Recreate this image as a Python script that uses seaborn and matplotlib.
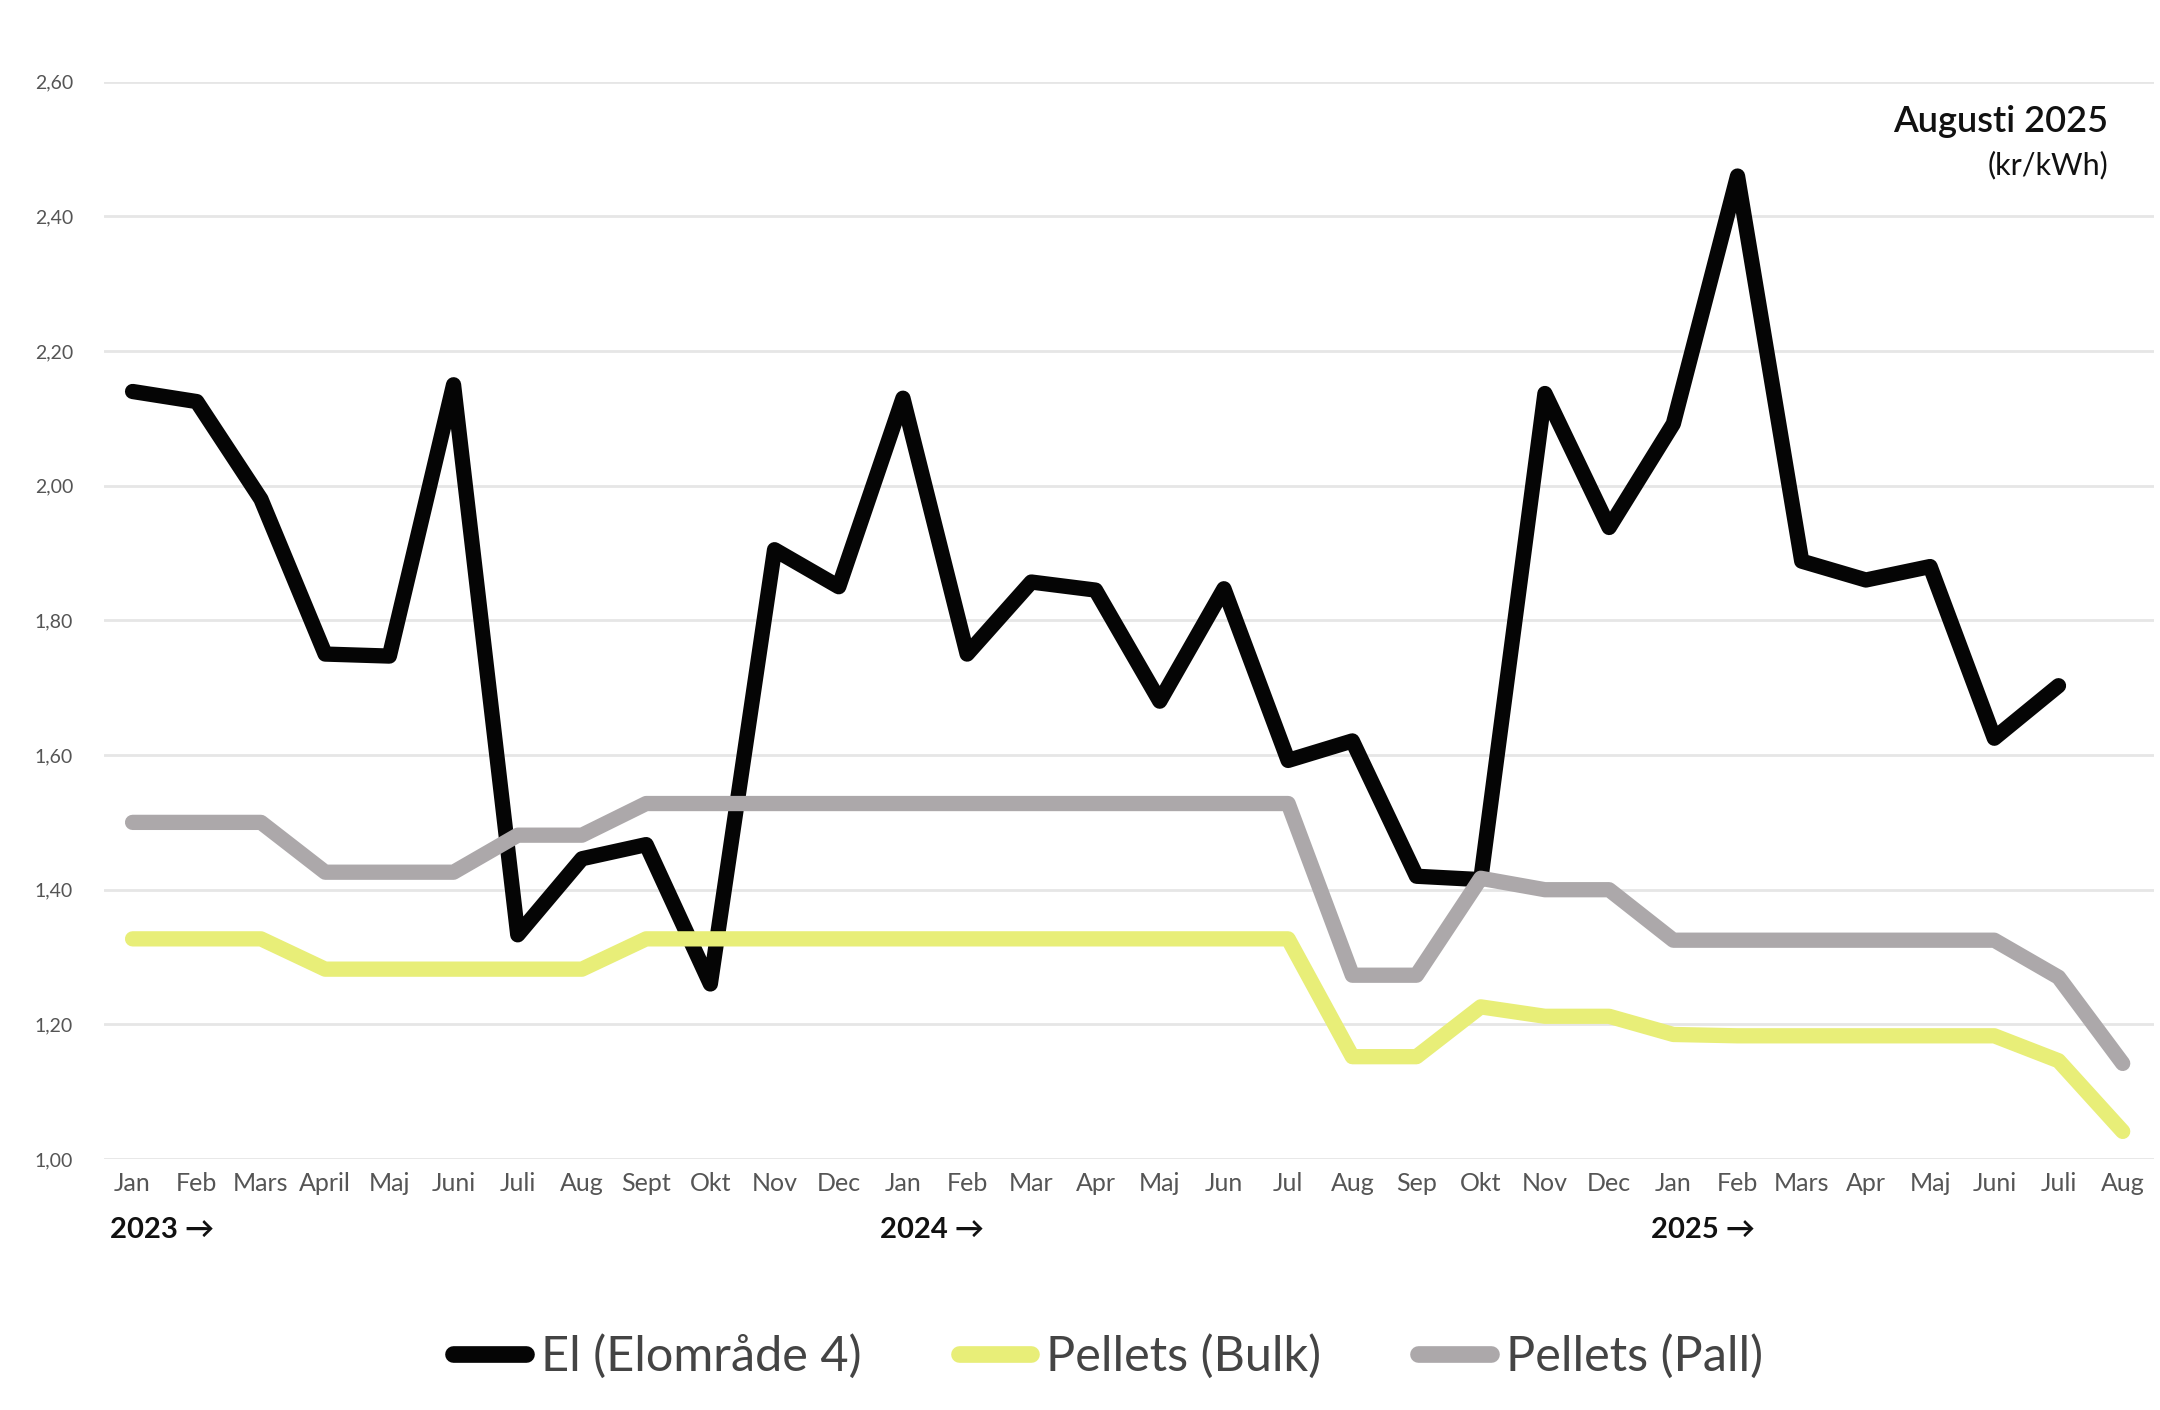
import numpy as np
import pandas as pd
import matplotlib
matplotlib.use("Agg")
import matplotlib.pyplot as plt
import matplotlib.transforms as mtransforms
import seaborn as sb

#%% Data (kr/kWh), Jan 2023 - Aug 2025
months = ["Jan", "Feb", "Mars", "April", "Maj", "Juni", "Juli", "Aug", "Sept", "Okt", "Nov", "Dec",
          "Jan", "Feb", "Mar", "Apr", "Maj", "Jun", "Jul", "Aug", "Sep", "Okt", "Nov", "Dec",
          "Jan", "Feb", "Mars", "Apr", "Maj", "Juni", "Juli", "Aug"]
years = ["2023", "2024", "2025"]
year_start = [0, 12, 24]

el = [2.14, 2.125, 1.98, 1.75, 1.747, 2.15, 1.333, 1.446, 1.467, 1.26, 1.905, 1.85,
      2.13, 1.75, 1.857, 1.845, 1.68, 1.847, 1.592, 1.621, 1.42, 1.415, 2.137, 1.938,
      2.092, 2.46, 1.888, 1.86, 1.88, 1.625, 1.703, np.nan]
bulk = [1.327, 1.327, 1.327, 1.282, 1.282, 1.282, 1.282, 1.282, 1.327, 1.327, 1.327, 1.327,
        1.327, 1.327, 1.327, 1.327, 1.327, 1.327, 1.327, 1.152, 1.152, 1.226, 1.212, 1.212,
        1.185, 1.183, 1.183, 1.183, 1.183, 1.183, 1.146, 1.041]
pall = [1.50, 1.50, 1.50, 1.426, 1.426, 1.426, 1.481, 1.481, 1.528, 1.528, 1.528, 1.528,
        1.528, 1.528, 1.528, 1.528, 1.528, 1.528, 1.528, 1.273, 1.273, 1.417, 1.40, 1.40,
        1.325, 1.325, 1.325, 1.325, 1.325, 1.325, 1.27, 1.142]

series = ["El (Elområde 4)", "Pellets (Bulk)", "Pellets (Pall)"]
colors = ["#050505", "#e8ee78", "#aca8aa"]

idx = np.arange(len(months))
df = pd.DataFrame({
    "x": np.tile(idx, 3),
    "pris": el + bulk + pall,
    "serie": np.repeat(series, len(months)),
}).dropna()

#%% Plot
sb.set_style("white")
plt.rcParams["font.family"] = ["Lato", "DejaVu Sans"]

fig = plt.figure(figsize=(21.6, 14.1), dpi=100)
ax = fig.add_axes([0.048, 0.178, 0.949, 0.764])

sb.lineplot(data=df, x="x", y="pris", hue="serie", hue_order=series,
            palette=colors, linewidth=11, ax=ax, legend=False,
            solid_capstyle="round", clip_on=False, sort=False)

ax.set_xlim(-0.45, 31.48)
ax.set_ylim(1.0, 2.6)
yt = np.arange(1.0, 2.61, 0.2)
ax.set_yticks(yt)
ax.set_yticklabels([f"{v:.2f}".replace(".", ",") for v in yt], color="#555555", fontsize=14)
ax.set_xticks(idx)
ax.set_xticklabels(months, color="#555555", fontsize=18)
ax.tick_params(axis="x", length=0, pad=9)
ax.tick_params(axis="y", length=0, pad=22)
ax.grid(axis="y", color="#e6e6e6", linewidth=2)
ax.grid(axis="x", visible=False)
for s in ax.spines.values():
    s.set_visible(False)
ax.set_xlabel("")
ax.set_ylabel("")

# year markers under the month labels
trans = mtransforms.blended_transform_factory(ax.transData, ax.transAxes)
for yr, i in zip(years, year_start):
    ax.text(i - 0.35, -0.066, f"{yr} →", transform=trans, ha="left", va="center",
            fontsize=21, fontweight="bold", color="#111111")

ax.text(0.978, 0.963, "Augusti 2025", transform=ax.transAxes, ha="right", va="center",
        fontsize=26, fontweight="semibold", color="#111111")
ax.text(0.978, 0.923, "(kr/kWh)", transform=ax.transAxes, ha="right", va="center",
        fontsize=22, color="#111111")

handles = [plt.Line2D([], [], color=c, linewidth=12, solid_capstyle="round") for c in colors]
fig.legend(handles, series, loc="center", bbox_to_anchor=(0.513, 0.038), ncol=3,
           frameon=False, fontsize=35, handlelength=1.5, handletextpad=0.3,
           columnspacing=2.0, labelcolor="#444444")

fig.savefig("out.png", dpi=100)
